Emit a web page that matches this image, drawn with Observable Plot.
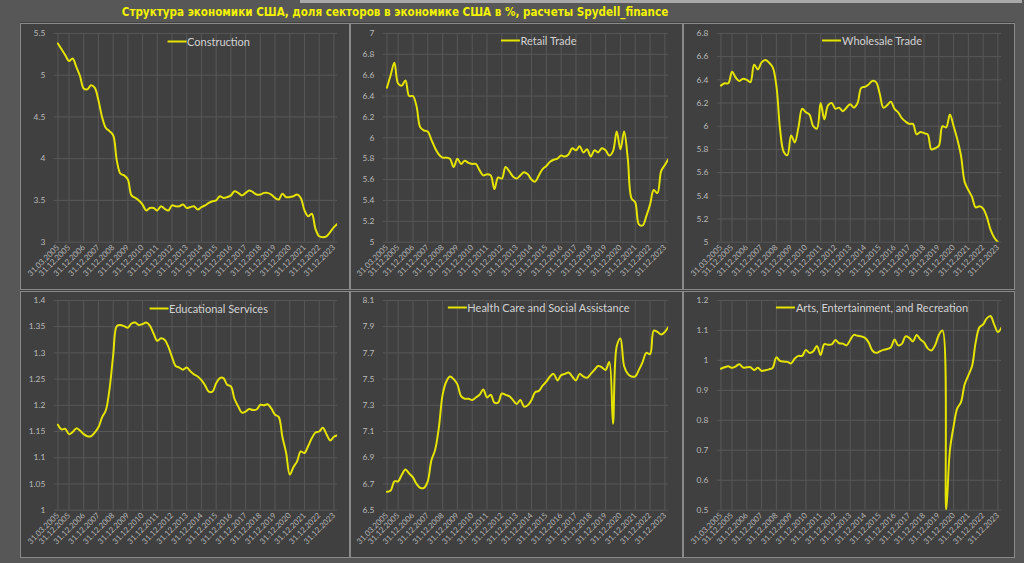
<!DOCTYPE html>
<html>
<head>
<meta charset="utf-8">
<script src="https://cdn.jsdelivr.net/npm/d3@7"></script>
<script src="https://cdn.jsdelivr.net/npm/@observablehq/plot@0.6"></script>
<style>
  html, body { margin: 0; padding: 0; }
  body { width: 1024px; height: 563px; overflow: hidden; position: relative; background: #575757; font-family: Lato, "Open Sans", sans-serif; }
  #topbar { position: absolute; left: 300px; top: 0; width: 722px; height: 3px; background: #a9a9a9; }
  #title { position: absolute; left: 0; top: 4px; width: 790px; text-align: center; color: #f2f200; font-weight: bold; font-size: 13px; font-family: "Liberation Sans Narrow", "DejaVu Sans Condensed", sans-serif; transform: scaleX(0.89); transform-origin: 395px 0; }
  #frame { position: absolute; left: 20px; top: 22px; width: 995px; height: 536px; background: #404040; }
  .panel { position: absolute; box-sizing: border-box; border: 1px solid #8a8a8a; background: #404040; }
  .panel svg { position: absolute; left: -1px; top: -1px; }
  .legend { position: absolute; transform: translate(-50%, -50%); white-space: nowrap; color: #d2d2d2; font-family: Lato, sans-serif; font-size: 11px; display: flex; align-items: center; }
  .legend .sw { display: inline-block; width: 19px; height: 2px; background: #e4e400; margin-right: 1px; }
</style>
</head>
<body>
<div id="topbar"></div>
<div id="title">Структура экономики США, доля секторов в экономике США в %, расчеты Spydell_finance</div>
<div id="frame"></div>
<script>
// ---------- data ----------
const firstQuarter = "31.03.2005";
const xTickLabels = ["31.03.2005","31.12.2005","31.12.2006","31.12.2007","31.12.2008","31.12.2009","31.12.2010","31.12.2011","31.12.2012","31.12.2013","31.12.2014","31.12.2015","31.12.2016","31.12.2017","31.12.2018","31.12.2019","31.12.2020","31.12.2021","31.12.2022","31.12.2023"];

const seriesNames = ["Construction","Retail Trade","Wholesale Trade","Educational Services","Health Care and Social Assistance","Arts, Entertainment, and Recreation"];

const construction = [5.38,5.31,5.24,5.17,5.20,5.10,4.99,4.84,4.83,4.88,
  4.85,4.70,4.50,4.37,4.33,4.28,3.98,3.82,3.80,3.75,
  3.56,3.53,3.50,3.45,3.38,3.41,3.41,3.38,3.43,3.40,
  3.38,3.44,3.43,3.43,3.45,3.41,3.42,3.43,3.39,3.42,
  3.44,3.47,3.49,3.50,3.55,3.53,3.54,3.56,3.61,3.59,
  3.56,3.59,3.62,3.60,3.57,3.57,3.59,3.59,3.57,3.53,
  3.51,3.58,3.54,3.54,3.55,3.57,3.53,3.38,3.31,3.34,
  3.16,3.07,3.06,3.07,3.12,3.18,3.22];

const retail = [6.48,6.60,6.72,6.52,6.50,6.55,6.40,6.40,6.30,6.10,
  6.07,6.06,5.98,5.90,5.84,5.81,5.81,5.80,5.72,5.80,
  5.75,5.78,5.76,5.75,5.75,5.69,5.64,5.65,5.64,5.51,
  5.62,5.61,5.72,5.68,5.63,5.61,5.64,5.67,5.65,5.60,
  5.58,5.64,5.70,5.73,5.77,5.79,5.80,5.83,5.82,5.84,
  5.90,5.88,5.92,5.86,5.89,5.82,5.88,5.86,5.90,5.88,
  5.83,5.87,6.06,5.89,6.06,5.80,5.42,5.38,5.17,5.16,
  5.25,5.36,5.50,5.47,5.68,5.74,5.80];

const wholesale = [6.35,6.37,6.37,6.47,6.42,6.39,6.41,6.40,6.38,6.53,
  6.49,6.55,6.57,6.55,6.51,6.35,5.98,5.78,5.75,5.92,
  5.86,5.99,6.15,6.12,6.10,6.00,5.98,6.20,6.06,6.18,
  6.20,6.15,6.16,6.13,6.16,6.19,6.16,6.20,6.33,6.34,
  6.36,6.39,6.38,6.28,6.16,6.18,6.21,6.15,6.12,6.07,
  6.04,6.02,6.02,5.93,5.95,5.94,5.93,5.80,5.81,5.83,
  6.00,5.99,6.10,6.00,5.89,5.75,5.52,5.45,5.39,5.30,
  5.31,5.29,5.22,5.11,5.04,5.00];

const education = [1.163,1.154,1.155,1.145,1.149,1.156,1.152,1.145,1.141,1.141,
  1.148,1.158,1.177,1.190,1.230,1.295,1.351,1.353,1.351,1.348,
  1.356,1.358,1.353,1.355,1.358,1.352,1.337,1.323,1.328,1.325,
  1.312,1.292,1.275,1.272,1.268,1.272,1.265,1.259,1.255,1.248,
  1.238,1.226,1.226,1.242,1.252,1.252,1.239,1.236,1.212,1.198,
  1.186,1.188,1.193,1.191,1.192,1.201,1.200,1.202,1.194,1.182,
  1.178,1.140,1.110,1.068,1.082,1.093,1.112,1.109,1.122,1.137,
  1.148,1.150,1.157,1.145,1.133,1.140,1.143];

const health = [6.64,6.65,6.72,6.72,6.77,6.81,6.78,6.75,6.70,6.67,
  6.67,6.72,6.88,6.96,7.13,7.38,7.48,7.52,7.50,7.46,
  7.37,7.35,7.35,7.34,7.36,7.38,7.42,7.36,7.38,7.32,
  7.32,7.39,7.38,7.37,7.34,7.31,7.34,7.29,7.30,7.34,
  7.40,7.41,7.45,7.48,7.52,7.54,7.49,7.53,7.54,7.55,
  7.52,7.49,7.54,7.52,7.51,7.54,7.57,7.60,7.59,7.57,
  7.63,7.16,7.75,7.81,7.60,7.54,7.52,7.52,7.57,7.63,
  7.70,7.69,7.87,7.86,7.84,7.86,7.90];

const arts = [0.972,0.977,0.980,0.975,0.980,0.987,0.976,0.977,0.977,0.968,
  0.975,0.965,0.967,0.970,0.975,1.010,0.998,0.996,0.995,0.990,
  1.006,1.015,1.015,1.035,1.025,1.030,1.048,1.018,1.054,1.052,
  1.053,1.068,1.057,1.056,1.050,1.068,1.085,1.082,1.080,1.075,
  1.060,1.033,1.025,1.030,1.035,1.038,1.043,1.070,1.050,1.055,
  1.080,1.075,1.063,1.085,1.070,1.060,1.040,1.033,1.050,1.085,
  1.100,0.500,0.700,0.780,0.840,0.860,0.920,0.950,0.980,1.060,
  1.110,1.120,1.140,1.148,1.120,1.095,1.110];

const yTicksConstruction = [3, 3.5, 4, 4.5, 5, 5.5];
const yTicksRetail = [5, 5.2, 5.4, 5.6, 5.8, 6, 6.2, 6.4, 6.6, 6.8, 7];
const yTicksWholesale = [5, 5.2, 5.4, 5.6, 5.8, 6, 6.2, 6.4, 6.6, 6.8];
const yTicksEducation = [1, 1.05, 1.1, 1.15, 1.2, 1.25, 1.3, 1.35, 1.4];
const yTicksHealth = [6.5, 6.7, 6.9, 7.1, 7.3, 7.5, 7.7, 7.9, 8.1];
const yTicksArts = [0.5, 0.6, 0.7, 0.8, 0.9, 1, 1.1, 1.2];

// ---------- helpers ----------
const parse = d3.utcParse("%d.%m.%Y");
const fmt = d3.utcFormat("%d.%m.%Y");
const start = parse(firstQuarter);
function quarterEnd(i) {
  const m = start.getUTCMonth() + 3 * i;
  return new Date(Date.UTC(start.getUTCFullYear(), m + 1, 0));
}
function toRows(values) { return values.map((v, i) => ({date: quarterEnd(i), value: v})); }
const tickDates = xTickLabels.map(parse);
const domainX = [quarterEnd(-1), quarterEnd(76)];

const LINE = "#e4e400";
const GRID = "#585858";

const panels = [
  {name: seriesNames[0], values: construction, ticks: yTicksConstruction, col: 0, row: 0, legDy: 18},
  {name: seriesNames[1], values: retail, ticks: yTicksRetail, col: 1, row: 0, legDy: 17},
  {name: seriesNames[2], values: wholesale, ticks: yTicksWholesale, col: 2, row: 0, legDy: 17},
  {name: seriesNames[3], values: education, ticks: yTicksEducation, col: 0, row: 1, legDy: 17},
  {name: seriesNames[4], values: health, ticks: yTicksHealth, col: 1, row: 1, legDy: 16},
  {name: seriesNames[5], values: arts, ticks: yTicksArts, col: 2, row: 1, legDy: 16},
];
const colLeft = [20, 350, 683], colW = [330, 333, 332], colML = [34, 33, 34], colMR = [11, 13, 12];
const rowTop = [23, 291], rowH = [267, 267], rowMT = [10, 9], MB = 47;

for (const p of panels) {
  const left = colLeft[p.col], top = rowTop[p.row], w = colW[p.col], h = rowH[p.row];
  const ml = colML[p.col], mr = colMR[p.col], mt = rowMT[p.row];
  const div = document.createElement("div");
  div.className = "panel";
  div.style.left = left + "px"; div.style.top = top + "px";
  div.style.width = w + "px"; div.style.height = h + "px";
  document.body.appendChild(div);

  const yDomain = [p.ticks[0], p.ticks[p.ticks.length - 1]];
  const chart = Plot.plot({
    width: w, height: h,
    marginLeft: ml, marginRight: mr, marginTop: mt, marginBottom: MB,
    style: {background: "transparent", color: "#b9b9b9", fontFamily: "Lato, sans-serif", overflow: "visible"},
    x: {type: "utc", domain: domainX},
    y: {domain: yDomain},
    marks: [
      Plot.gridY(p.ticks, {stroke: GRID, strokeOpacity: 1, strokeWidth: 1}),
      Plot.gridX(tickDates, {stroke: GRID, strokeOpacity: 1, strokeWidth: 1}),
      Plot.axisY(p.ticks, {tickSize: 0, tickPadding: 9, fontSize: 8.5, fill: "#b9b9b9", tickFormat: d => String(d), label: null}),
      Plot.axisX(tickDates, {tickSize: 0, tickPadding: 4, tickRotate: -45, fontSize: 8, fill: "#b3b3b3", tickFormat: d => fmt(d), label: null}),
      Plot.line(toRows(p.values), {x: "date", y: "value", stroke: LINE, strokeWidth: 2, curve: "catmull-rom", clip: true})
    ]
  });
  div.appendChild(chart);

  const leg = document.createElement("div");
  leg.className = "legend";
  const cx = left + ml + (w - ml - mr) / 2 + 12;
  leg.style.left = cx + "px";
  leg.style.top = (top + p.legDy) + "px";
  leg.innerHTML = '<span class="sw"></span><span></span>';
  leg.lastChild.textContent = p.name;
  document.body.appendChild(leg);
}
</script>
</body>
</html>
